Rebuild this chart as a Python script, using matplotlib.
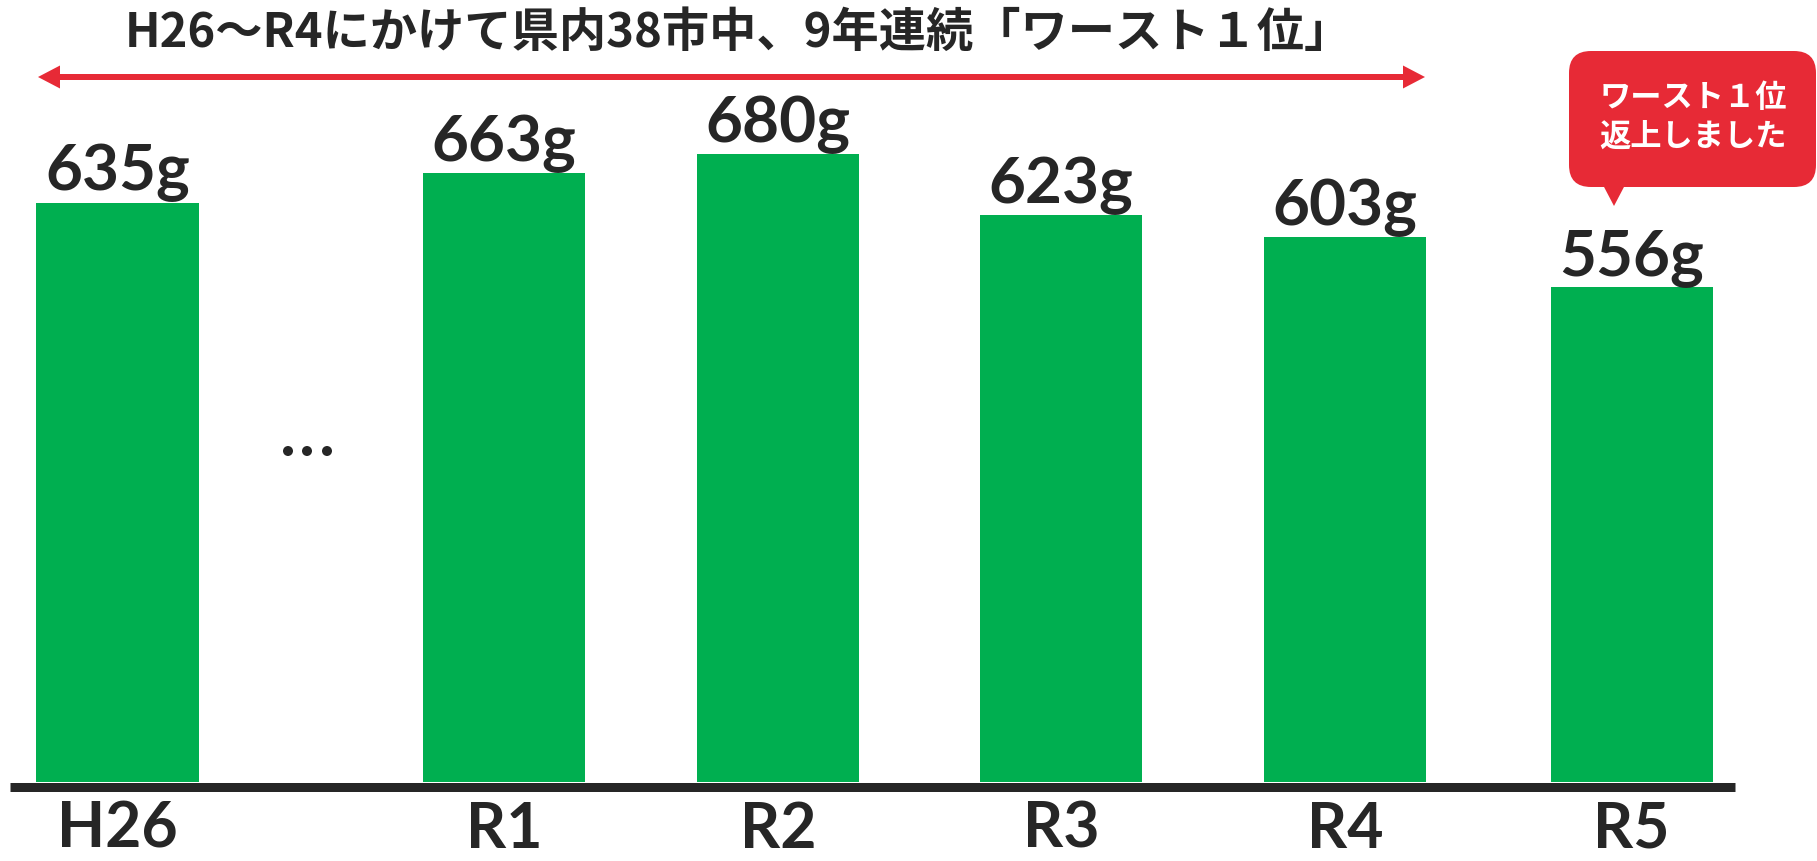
import matplotlib
matplotlib.use("Agg")
import matplotlib.pyplot as plt
from matplotlib.patches import FancyBboxPatch, Polygon, Circle

# ---- data ----
categories = ["H26", "R1", "R2", "R3", "R4", "R5"]
values = [635, 663, 680, 623, 603, 556]
value_labels = [f"{v}g" for v in values]
title_text = "H26～R4にかけて県内38市中、9年連続「ワースト１位」"
callout_lines = ["ワースト１位", "返上しました"]

# ---- layout ----
W, H = 1817, 862
positions = [0, 1.371, 2.343, 3.347, 4.354, 5.371]
bar_width = 0.575
green = "#00AF50"
red = "#E72A36"
dark = "#262626"
num_font = "Lato"
jp_font = ["Noto Sans CJK JP", "DejaVu Sans"]

fig = plt.figure(figsize=(W / 100, H / 100), dpi=100)
ax = fig.add_axes([0, 0, 1, 1])
px_per_unit = 281.9
x0 = 117.5
ax.set_xlim(-x0 / px_per_unit, (W - x0) / px_per_unit)
y_base = 92.0
y_scale = 1.0672
ax.set_ylim(y_base - (H - 783) / y_scale, y_base + 783 / y_scale)
ax.axis("off")

ax.bar(positions, [v - y_base for v in values], bottom=y_base, width=bar_width,
       color=green, zorder=2)

# baseline
ax.hlines(y_base - 4.5 / y_scale, (10 - x0) / px_per_unit, (1735 - x0) / px_per_unit,
          color=dark, linewidth=9 * 0.72, zorder=3)

for p, v, lab in zip(positions, values, value_labels):
    ax.annotate(lab, (p, v), xytext=(0, 13 * 0.72), textcoords="offset points",
                ha="center", va="baseline", fontsize=46, fontweight="bold",
                family=num_font, color=dark)

trans = ax.get_xaxis_transform()
for p, c in zip(positions, categories):
    ax.text(p, 1 - 848 / H, c, transform=trans, ha="center", va="baseline",
            fontsize=45, fontweight="bold", family=num_font, color=dark)

# ---- overlay in pixel coordinates ----
ov = fig.add_axes([0, 0, 1, 1], zorder=5)
ov.set_xlim(0, W)
ov.set_ylim(H, 0)
ov.axis("off")
ov.patch.set_alpha(0)

ov.text(738, 33, title_text, ha="center", va="center", fontsize=34,
        fontweight="bold", family=jp_font, color=dark)

# double arrow
ay = 78
ov.plot([50, 1413], [ay, ay], color=red, linewidth=6 * 0.72, solid_capstyle="butt")
ov.add_patch(Polygon([[38, ay], [60, ay - 11.5], [60, ay + 11.5]], closed=True,
                     color=red, lw=0))
ov.add_patch(Polygon([[1425, ay], [1403, ay - 11.5], [1403, ay + 11.5]], closed=True,
                     color=red, lw=0))

# ellipsis dots
for dx in (288, 307, 327):
    ov.add_patch(Circle((dx, 452), 5, color=dark, lw=0))

# callout
ov.add_patch(FancyBboxPatch((1569, 52), 247, 136,
                            boxstyle="round,pad=0,rounding_size=22",
                            facecolor=red, edgecolor="none"))
ov.add_patch(Polygon([[1603, 186], [1625, 186], [1614, 207]], closed=True,
                     color=red, lw=0))
ov.text(1693, 98, callout_lines[0], ha="center", va="center", fontsize=22.5,
        fontweight="bold", family=jp_font, color="white")
ov.text(1693, 137, callout_lines[1], ha="center", va="center", fontsize=22.5,
        fontweight="bold", family=jp_font, color="white")

fig.savefig("out.png", dpi=100)
